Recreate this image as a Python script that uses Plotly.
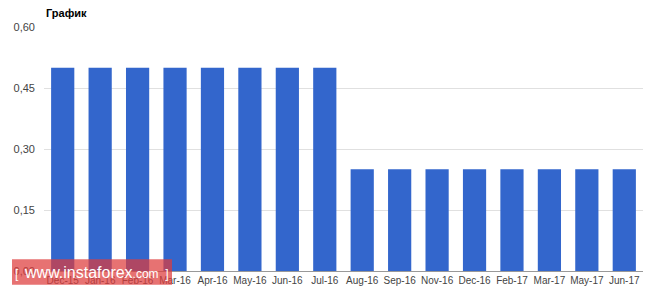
import plotly.graph_objects as go

categories = ["Dec-15", "Jan-16", "Feb-16", "Mar-16", "Apr-16", "May-16", "Jun-16", "Jul-16",
              "Aug-16", "Sep-16", "Nov-16", "Dec-16", "Feb-17", "Mar-17", "May-17", "Jun-17"]
values = [0.50, 0.50, 0.50, 0.50, 0.50, 0.50, 0.50, 0.50,
          0.25, 0.25, 0.25, 0.25, 0.25, 0.25, 0.25, 0.25]
y_ticks = [0, 0.15, 0.30, 0.45, 0.60]

fig = go.Figure(go.Bar(x=categories, y=values, marker=dict(color="#3366cc", line_width=0)))

fig.update_layout(
    width=664, height=298,
    margin=dict(l=44, r=21, t=27, b=24),
    plot_bgcolor="white", paper_bgcolor="white",
    separators=", ",
    bargap=0.38,
    showlegend=False,
    font=dict(family="Liberation Sans, Arial", size=10, color="#444"),
)
fig.update_xaxes(showgrid=False, showline=True, linecolor="#999", linewidth=1,
                 ticks="", tickfont=dict(size=10, color="#444"), tickangle=0)
fig.update_yaxes(range=[0, 0.6], tickvals=y_ticks, tickformat=".2f",
                 showgrid=True, gridcolor="#e0e0e0", gridwidth=1, zeroline=False,
                 tickfont=dict(size=11, color="#444"), ticks="", ticklabelstandoff=8)

fig.add_annotation(text="<b>График</b>", xref="paper", yref="paper", x=0, y=1,
                   xanchor="left", yanchor="bottom", yshift=6, showarrow=False,
                   font=dict(size=11, color="#000"))

# watermark
fig.add_shape(type="rect", xref="paper", yref="paper",
              x0=(12 - 44) / 599, x1=(172 - 44) / 599,
              y0=-(288 - 274) / 247, y1=(274 - 262) / 247,
              fillcolor="rgba(222,60,60,0.72)", line_width=0, layer="above")
fig.add_annotation(text="[  <span style='font-size:16px'>www.instaforex</span>.com  ]",
                   xref="paper", yref="paper",
                   x=(92 - 44) / 599, y=-(276 - 274) / 247,
                   xanchor="center", yanchor="middle", showarrow=False,
                   font=dict(size=12, color="white", family="Liberation Sans, Arial"))

fig.write_html("out.html")
